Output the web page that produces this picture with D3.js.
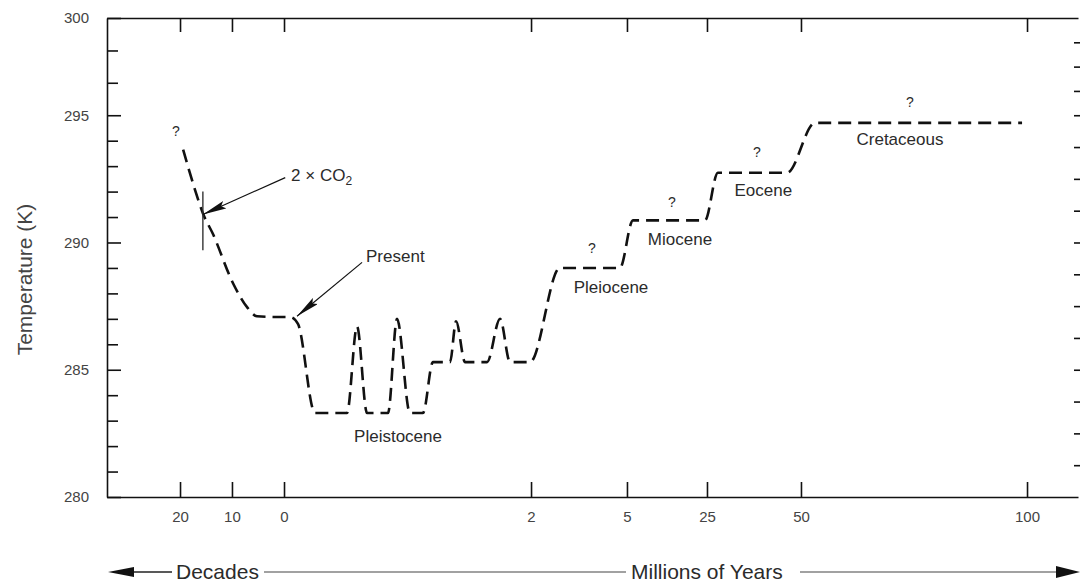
<!DOCTYPE html>
<html>
<head>
<meta charset="utf-8">
<script src="https://cdn.jsdelivr.net/npm/d3@7"></script>
<style>
body { margin: 0; background: #fff; }
svg { font-family: "Liberation Sans", Arial, sans-serif; }
</style>
</head>
<body>
<div id="chart"></div>
<script>
// future part of the curve, in decades from now
var decadesAhead = [19.4, 17.1, 15.6, 13.7, 9.8, 7.1, 5.2, 1];
var decadesTemp = [293.65, 292.06, 291.15, 290.35, 288.4, 287.46, 287.1, 287.07];

// past part of the curve, in millions of years ago
var myrAgo = [0.05, 0.113, 0.251, 0.51, 0.591, 0.672, 0.842, 0.915, 1.02, 1.125, 1.206, 1.344, 1.393, 1.466, 1.644, 1.749, 1.83, 1.992, 2.9, 4.78, 6.5, 24.5, 27.9, 46.3, 53.1, 98.9];
var myrTemp = [287.07, 286.8, 283.3, 283.3, 286.7, 283.3, 283.3, 287.0, 283.3, 283.3, 285.3, 285.3, 286.9, 285.3, 285.3, 287.0, 285.3, 285.3, 289.0, 289.0, 290.87, 290.87, 292.74, 292.74, 294.7, 294.7];

// x ticks: negative = decades ahead, positive = millions of years ago
var xTicks = [-20, -10, 0, 2, 5, 25, 50, 100];
var yTicks = [280, 285, 290, 295, 300];
var yMinor = [281, 282, 283, 284, 286, 287, 288, 289, 291, 292, 293, 294, 296.67, 298.33];

// period labels (u = signed time, t = temperature)
var periodNames = ["Pleistocene", "Pleiocene", "Miocene", "Eocene", "Cretaceous"];
var periodU = [0.923, 4.5, 18.25, 40.0, 71.9];
var periodT = [282.17, 288.0, 289.92, 291.83, 293.85];
var questionU = [-20.8, 3.9, 16.25, 38.3, 74.1];
var questionT = [294.2, 289.6, 291.39, 293.37, 295.41];

var margin = { top: 18, right: 2, bottom: 86, left: 107 },
    width = 1080 - margin.left - margin.right,
    height = 583 - margin.top - margin.bottom;

// broken time axis: piecewise linear
var x = d3.scaleLinear()
    .domain([-34, -20, -10, 0, 2, 5, 25, 50, 100, 111.3])
    .range([0, .0752, .1287, .1823, .4367, .5355, .6179, .7147, .9475, 1].map(function (f) { return f * width; }));
var y = d3.scaleLinear()
    .domain([280, 295, 300])
    .range([height, height * 0.203, 0]);

var svg = d3.select("#chart").append("svg")
    .attr("width", 1080)
    .attr("height", 583)
    .append("g")
    .attr("transform", "translate(" + margin.left + "," + margin.top + ")");

var defs = d3.select("svg").append("defs");
defs.append("marker").attr("id", "head")
    .attr("viewBox", "0 0 24 8").attr("refX", 24).attr("refY", 4)
    .attr("markerWidth", 24).attr("markerHeight", 8)
    .attr("markerUnits", "userSpaceOnUse").attr("orient", "auto")
    .append("path").attr("d", "M0,0 L24,4 L0,8 L4,4 z").attr("fill", "#111");

var ink = "#111", txt = "#2b2b2b";

// axes
var xAxis = d3.axisBottom(x).tickValues(xTicks).tickSize(-15).tickSizeOuter(0).tickPadding(14)
    .tickFormat(function (d) { return Math.abs(d); });
var xTop = d3.axisTop(x).tickValues(xTicks).tickSize(-14).tickSizeOuter(0).tickFormat("");
var yAxis = d3.axisLeft(y).tickValues(yTicks).tickSize(-14).tickSizeOuter(0).tickPadding(18);
var yMinorAxis = d3.axisLeft(y).tickValues(yMinor).tickSize(-11).tickFormat("");
var yRight = d3.axisRight(y).tickValues(d3.range(281.25, 300, 1.25)).tickSize(-6).tickSizeOuter(0).tickFormat("");

function styleAxis(g) {
    g.select(".domain").attr("stroke", ink).attr("stroke-width", 1.6);
    g.selectAll(".tick line").attr("stroke", ink).attr("stroke-width", 1.6);
    g.selectAll(".tick text").attr("fill", "#444").style("font-size", "15px");
}

svg.append("g").attr("transform", "translate(0," + height + ")").call(xAxis).call(styleAxis);
svg.append("g").call(xTop).call(styleAxis);
svg.append("g").call(yAxis).call(styleAxis);
svg.append("g").call(yMinorAxis).call(styleAxis).select(".domain").remove();
svg.append("g").attr("transform", "translate(" + (width + 2) + ",0)").call(yRight).call(styleAxis)
    .select(".domain").remove();

// curve
var pts = decadesAhead.map(function (d, i) { return [-d, decadesTemp[i]]; })
    .concat(myrAgo.map(function (d, i) { return [d, myrTemp[i]]; }));

var line = d3.line()
    .x(function (d) { return x(d[0]); })
    .y(function (d) { return y(d[1]); })
    .curve(d3.curveMonotoneX);

svg.append("path")
    .datum(pts)
    .attr("d", line)
    .attr("fill", "none")
    .attr("stroke", ink)
    .attr("stroke-width", 2.6)
    .attr("stroke-dasharray", "13,7");

// 2 x CO2 marker
svg.append("line")
    .attr("x1", x(-15.6)).attr("x2", x(-15.6))
    .attr("y1", y(292.0)).attr("y2", y(289.7))
    .attr("stroke", "#333").attr("stroke-width", 1.4);

// annotation arrows
var arrows = [
    { from: [0.01, 292.55], to: [-15.6, 291.1] },
    { from: [0.632, 289.22], to: [0.105, 287.1] }
];
svg.selectAll(".arrow").data(arrows).enter().append("line")
    .attr("x1", function (d) { return x(d.from[0]); })
    .attr("y1", function (d) { return y(d.from[1]); })
    .attr("x2", function (d) { return x(d.to[0]); })
    .attr("y2", function (d) { return y(d.to[1]); })
    .attr("stroke", ink).attr("stroke-width", 1.2)
    .attr("marker-end", "url(#head)");

var co2 = svg.append("text")
    .attr("x", x(0.057)).attr("y", y(292.42))
    .attr("fill", txt).style("font-size", "17px");
co2.append("tspan").text("2 \u00d7 CO");
co2.append("tspan").attr("dy", 4).style("font-size", "12px").text("2");

svg.append("text")
    .attr("x", x(0.664)).attr("y", y(289.22))
    .attr("fill", txt).style("font-size", "17px")
    .text("Present");

svg.selectAll(".period").data(periodNames).enter().append("text")
    .attr("x", function (d, i) { return x(periodU[i]); })
    .attr("y", function (d, i) { return y(periodT[i]); })
    .attr("text-anchor", "middle")
    .attr("fill", txt).style("font-size", "17px")
    .text(function (d) { return d; });

svg.selectAll(".q").data(questionU).enter().append("text")
    .attr("x", function (d) { return x(d); })
    .attr("y", function (d, i) { return y(questionT[i]); })
    .attr("text-anchor", "middle")
    .attr("fill", txt).style("font-size", "14px")
    .text("?");

// y title
svg.append("text")
    .attr("transform", "translate(-75," + (height / 2 + 22) + ") rotate(-90)")
    .attr("text-anchor", "middle")
    .attr("fill", "#444").style("font-size", "21px")
    .text("Temperature (K)");

// bottom time arrows
var root = d3.select("svg");
var by = 572;
root.append("line").attr("x1", 128).attr("x2", 172).attr("y1", by).attr("y2", by)
    .attr("stroke", "#222").attr("stroke-width", 1.4);
root.append("path").attr("d", "M108," + by + " L134," + (by - 5) + " L134," + (by + 5) + " z").attr("fill", "#111");
root.append("text").attr("x", 176).attr("y", 579).attr("fill", txt)
    .style("font-size", "21px").text("Decades");
root.append("line").attr("x1", 264).attr("x2", 626).attr("y1", by).attr("y2", by)
    .attr("stroke", "#444").attr("stroke-width", 1.2);
root.append("text").attr("x", 631).attr("y", 579).attr("fill", txt)
    .style("font-size", "21px").text("Millions of Years");
root.append("line").attr("x1", 800).attr("x2", 1060).attr("y1", by).attr("y2", by)
    .attr("stroke", "#444").attr("stroke-width", 1.2);
root.append("path").attr("d", "M1080," + by + " L1056," + (by - 6) + " L1056," + (by + 6) + " z").attr("fill", "#111");
</script>
</body>
</html>
